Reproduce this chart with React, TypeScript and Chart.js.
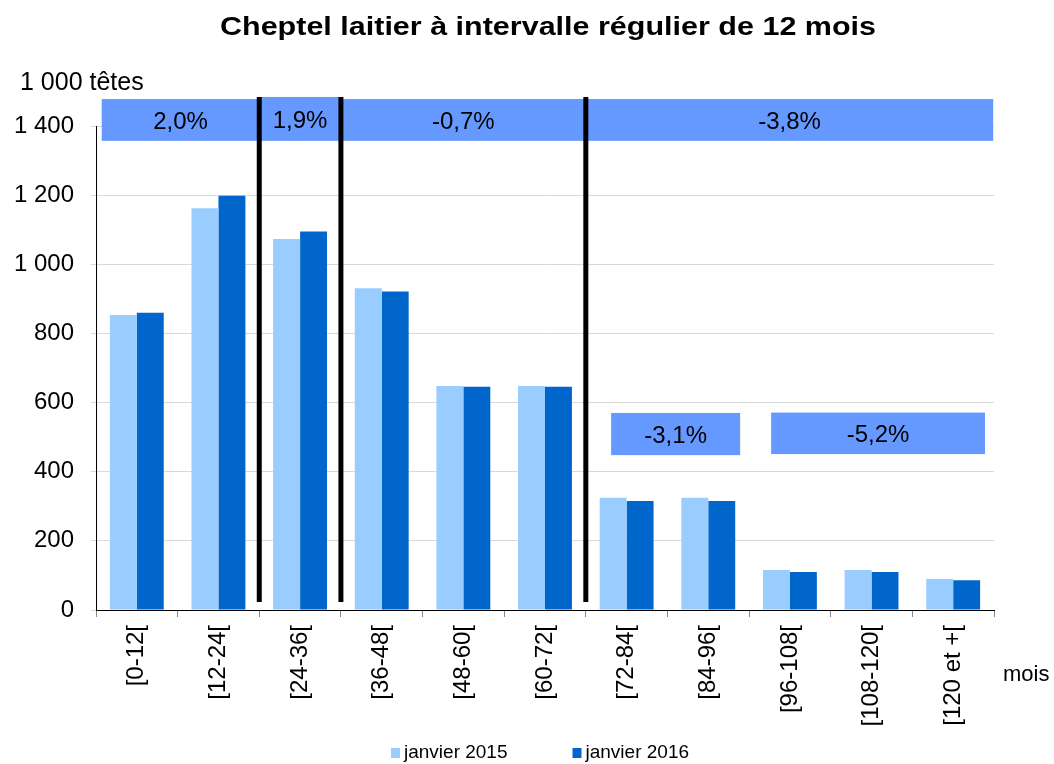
import React, { useEffect, useRef } from "react";
import { Chart, registerables } from "chart.js";

Chart.register(...registerables);

const categories = ["[0-12[", "[12-24[", "[24-36[", "[36-48[", "[48-60[", "[60-72[", "[72-84[", "[84-96[", "[96-108[", "[108-120[", "[120 et +["];
const series2015 = [853, 1162, 1073, 931, 648, 648, 325, 325, 116, 116, 90];
const series2016 = [860, 1198, 1095, 921, 646, 646, 315, 315, 110, 110, 86];
const seriesLabels = ["janvier 2015", "janvier 2016"];
const seriesColors = ["#99CCFF", "#0066CC"];

const title = "Cheptel laitier à intervalle régulier de 12 mois";
const yUnit = "1 000 têtes";
const xUnit = "mois";

// Annotation bands: [from category, to category, low value, high value]
const bandFrom = [-0.43, 1.5, 2.5, 5.5, 5.81, 7.77];
const bandTo = [1.5, 2.5, 5.5, 10.49, 7.39, 10.39];
const bandLow = [1357, 1357, 1357, 1357, 448, 451];
const bandHigh = [1478, 1484, 1478, 1478, 570, 571];
const bandLabels = ["2,0%", "1,9%", "-0,7%", "-3,8%", "-3,1%", "-5,2%"];

// Vertical dividers (between categories)
const dividerAt = [1.5, 2.5, 5.5];
const dividerLow = 23;
const dividerHigh = 1484;

const FONT = "'Liberation Sans', Arial, sans-serif";

const fmt = (v: number) =>
  v >= 1000 ? `${Math.floor(v / 1000)} ${String(v % 1000).padStart(3, "0")}` : String(v);

const overlayPlugin = {
  id: "overlay",
  afterDatasetsDraw(chart: any) {
    const { ctx, scales, chartArea } = chart;
    const x = scales.x;
    const y = scales.y;
    ctx.save();
    // title (slightly wide lettering, as in the reference)
    ctx.save();
    ctx.fillStyle = "#000";
    ctx.font = `bold 25px ${FONT}`;
    ctx.textAlign = "center";
    ctx.textBaseline = "alphabetic";
    ctx.translate((chartArea.left + chartArea.right) / 2 + 3, 35);
    ctx.scale(1.22, 1);
    ctx.fillText(title, 0, 0);
    ctx.restore();
    // bands
    for (let i = 0; i < bandLabels.length; i++) {
      const x0 = x.getPixelForValue(bandFrom[i]);
      const x1 = x.getPixelForValue(bandTo[i]);
      const y0 = y.getPixelForValue(bandHigh[i]);
      const y1 = y.getPixelForValue(bandLow[i]);
      ctx.fillStyle = "#6699FF";
      ctx.fillRect(x0, y0, x1 - x0, y1 - y0);
      ctx.fillStyle = "#000";
      ctx.font = `24px ${FONT}`;
      ctx.textAlign = "center";
      ctx.textBaseline = "middle";
      ctx.fillText(bandLabels[i], (x0 + x1) / 2, (y0 + y1) / 2 + 2);
    }
    // dividers
    ctx.strokeStyle = "#000";
    ctx.lineWidth = 5;
    for (const d of dividerAt) {
      const px = x.getPixelForValue(d);
      ctx.beginPath();
      ctx.moveTo(px, y.getPixelForValue(dividerHigh));
      ctx.lineTo(px, y.getPixelForValue(dividerLow));
      ctx.stroke();
    }
    // unit labels
    ctx.fillStyle = "#000";
    ctx.font = `25px ${FONT}`;
    ctx.textAlign = "left";
    ctx.textBaseline = "middle";
    ctx.fillText(yUnit, chartArea.left - 76, chartArea.top - 43);
    ctx.font = `22px ${FONT}`;
    ctx.fillText(xUnit, chartArea.right + 9, chartArea.bottom + 65);
    // legend
    ctx.font = `19px ${FONT}`;
    const gapBox = 4;
    const boxW = 9;
    const boxH = 10;
    const itemGap = 65;
    const widths = seriesLabels.map((t) => ctx.measureText(t).width);
    const total = widths.reduce((a, b) => a + b, 0) + seriesLabels.length * (boxW + gapBox) + itemGap * (seriesLabels.length - 1);
    let lx = (chartArea.left + chartArea.right) / 2 - 5 - total / 2;
    const ly = chart.height - 10;
    for (let i = 0; i < seriesLabels.length; i++) {
      ctx.fillStyle = seriesColors[i];
      ctx.fillRect(lx, ly - boxH + 4, boxW, boxH);
      ctx.fillStyle = "#000";
      ctx.textBaseline = "alphabetic";
      ctx.fillText(seriesLabels[i], lx + boxW + gapBox, ly + 4);
      lx += boxW + gapBox + widths[i] + itemGap;
    }
    ctx.restore();
  },
};

export default function App() {
  const ref = useRef<HTMLCanvasElement>(null);
  useEffect(() => {
    if (!ref.current) return;
    const chart = new Chart(ref.current, {
      type: "bar",
      data: {
        labels: categories,
        datasets: [
          { label: seriesLabels[0], data: series2015, backgroundColor: seriesColors[0], categoryPercentage: 0.66, barPercentage: 1 },
          { label: seriesLabels[1], data: series2016, backgroundColor: seriesColors[1], categoryPercentage: 0.66, barPercentage: 1 },
        ],
      },
      options: {
        responsive: false,
        animation: false,
        devicePixelRatio: 1,
        layout: { padding: { left: 0, right: 60, top: 126, bottom: 24 } },
        plugins: {
          legend: { display: false },
          tooltip: { enabled: false },
          title: { display: false },
        },
        scales: {
          x: {
            afterFit: (s: any) => {
              s.height = 130;
            },
            grid: { display: true, drawOnChartArea: false, drawTicks: true, tickLength: 7, color: "#888" },
            border: { display: true, color: "#000", width: 1 },
            ticks: {
              autoSkip: false,
              minRotation: 90,
              maxRotation: 90,
              padding: 8,
              color: "#000",
              font: { family: FONT, size: 24 },
            },
          },
          y: {
            min: 0,
            max: 1400,
            afterFit: (s: any) => {
              s.width = 96;
            },
            grid: { color: "#d9d9d9", drawTicks: true, tickLength: 5 },
            border: { display: true, color: "#000", width: 1 },
            ticks: {
              stepSize: 200,
              padding: 17,
              color: "#000",
              font: { family: FONT, size: 24 },
              callback: (v: any) => fmt(Number(v)),
            },
          },
        },
      },
      plugins: [overlayPlugin],
    });
    return () => chart.destroy();
  }, []);
  return (
    <div style={{ position: "absolute", left: 0, top: 0, width: 1054, height: 764, background: "#fff" }}>
      <canvas ref={ref} width={1054} height={764} />
    </div>
  );
}
